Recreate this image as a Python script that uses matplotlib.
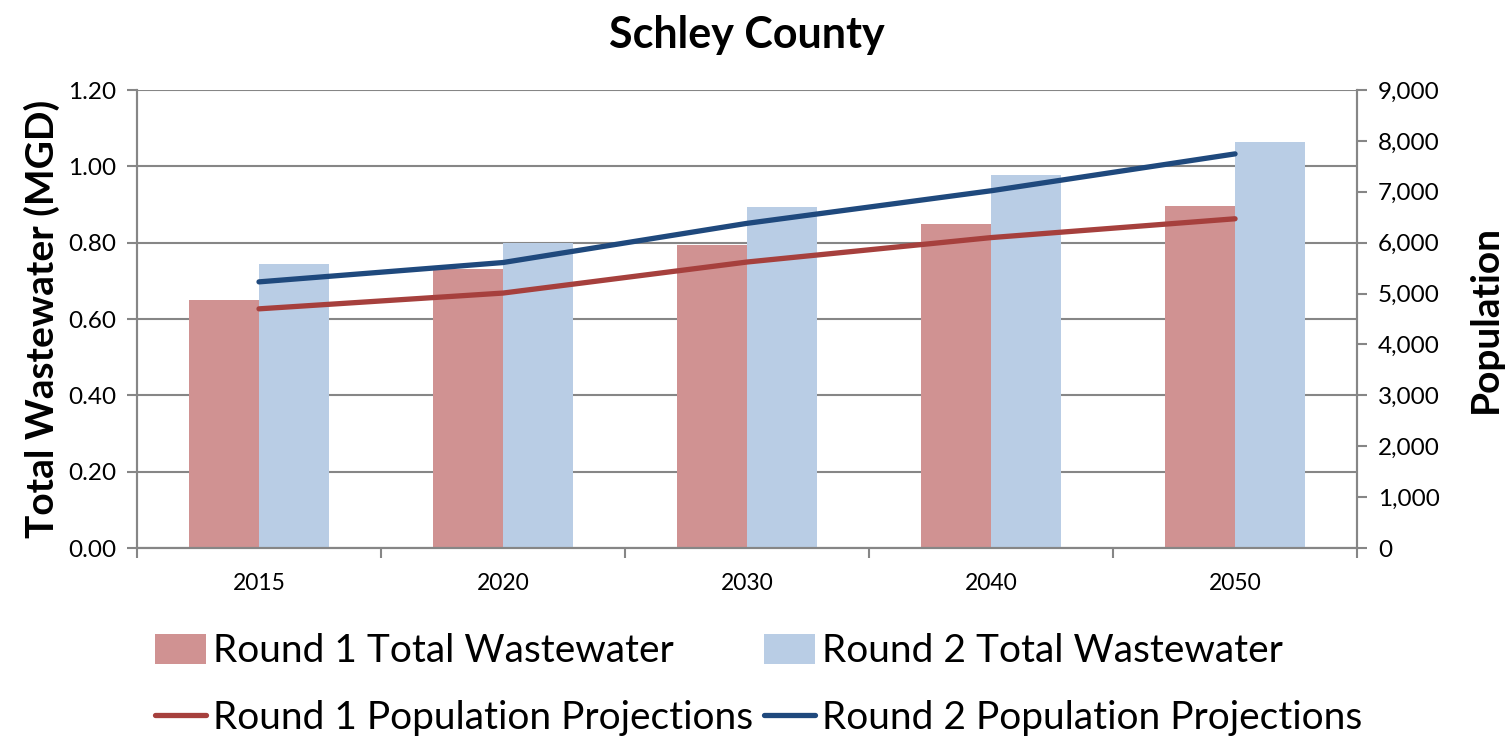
import matplotlib

matplotlib.use("Agg")
import matplotlib.pyplot as plt
import numpy as np
from matplotlib.ticker import FuncFormatter, MultipleLocator

plt.rcParams["font.family"] = ["Lato", "DejaVu Sans"]

years = ["2015", "2020", "2030", "2040", "2050"]
round1_wastewater = [0.65, 0.73, 0.795, 0.85, 0.895]
round2_wastewater = [0.745, 0.80, 0.893, 0.977, 1.063]
round1_population = [4700, 5010, 5620, 6100, 6470]
round2_population = [5230, 5610, 6380, 7020, 7745]

C_R1_BAR = "#D09292"
C_R2_BAR = "#B9CDE5"
C_R1_LINE = "#A6403D"
C_R2_LINE = "#1F497D"
C_AXIS = "#868686"

fig = plt.figure(figsize=(15.07, 7.36), dpi=100)
ax = fig.add_axes([0.0909, 0.2554, 0.8096, 0.6223])
ax2 = ax.twinx()

x = np.arange(len(years))
w = 0.2857
ax.bar(x - w / 2, round1_wastewater, width=w, color=C_R1_BAR, label="Round 1 Total Wastewater", zorder=2)
ax.bar(x + w / 2, round2_wastewater, width=w, color=C_R2_BAR, label="Round 2 Total Wastewater", zorder=2)

l1, = ax2.plot(x, round1_population, color=C_R1_LINE, lw=3.8, solid_capstyle="round",
               label="Round 1 Population Projections")
l2, = ax2.plot(x, round2_population, color=C_R2_LINE, lw=3.8, solid_capstyle="round",
               label="Round 2 Population Projections")

ax.set_xlim(-0.5, len(years) - 0.5)
ax.set_ylim(0, 1.2)
ax.yaxis.set_major_locator(MultipleLocator(0.2))
ax.yaxis.set_major_formatter(FuncFormatter(lambda v, p: f"{v:.2f}"))
ax2.set_ylim(0, 9000)
ax2.yaxis.set_major_locator(MultipleLocator(1000))
ax2.yaxis.set_major_formatter(FuncFormatter(lambda v, p: f"{v:,.0f}"))

ax.set_xticks(x)
ax.set_xticklabels(years)
ax.set_xticks(np.arange(-0.5, len(years)), minor=True)
ax.tick_params(axis="x", which="major", length=0, pad=18, labelsize=16.5)
ax.tick_params(axis="x", which="minor", length=7, width=1.5, color=C_AXIS, direction="out")
ax.tick_params(axis="y", length=7, width=1.5, color=C_AXIS, labelsize=17.5, pad=8)
ax2.tick_params(axis="y", length=7, width=1.5, color=C_AXIS, labelsize=17.5, pad=8)

ax.grid(axis="y", color=C_AXIS, lw=1.5, zorder=0)
ax.set_axisbelow(True)
for a in (ax, ax2):
    for s in a.spines.values():
        s.set_color(C_AXIS)
        s.set_linewidth(1.5)
    a.spines["top"].set_visible(False)

ax.set_ylabel("Total Wastewater (MGD)", fontsize=28, fontweight="bold", labelpad=6)
ax2.set_ylabel("Population", fontsize=28, fontweight="bold", labelpad=20)
ax.set_title("Schley County", fontsize=31, fontweight="bold", pad=30)

h1, lab1 = ax.get_legend_handles_labels()
handles = [h1[0], l1, h1[1], l2]
labels = [lab1[0], l1.get_label(), lab1[1], l2.get_label()]
fig.legend(handles, labels, ncol=2, loc="lower left", bbox_to_anchor=(0.0797, -0.048),
           frameon=False, fontsize=28, handlelength=1.3, handleheight=0.8,
           handletextpad=0.18, columnspacing=0.3, labelspacing=0.8)

fig.savefig("out.png", dpi=100)
